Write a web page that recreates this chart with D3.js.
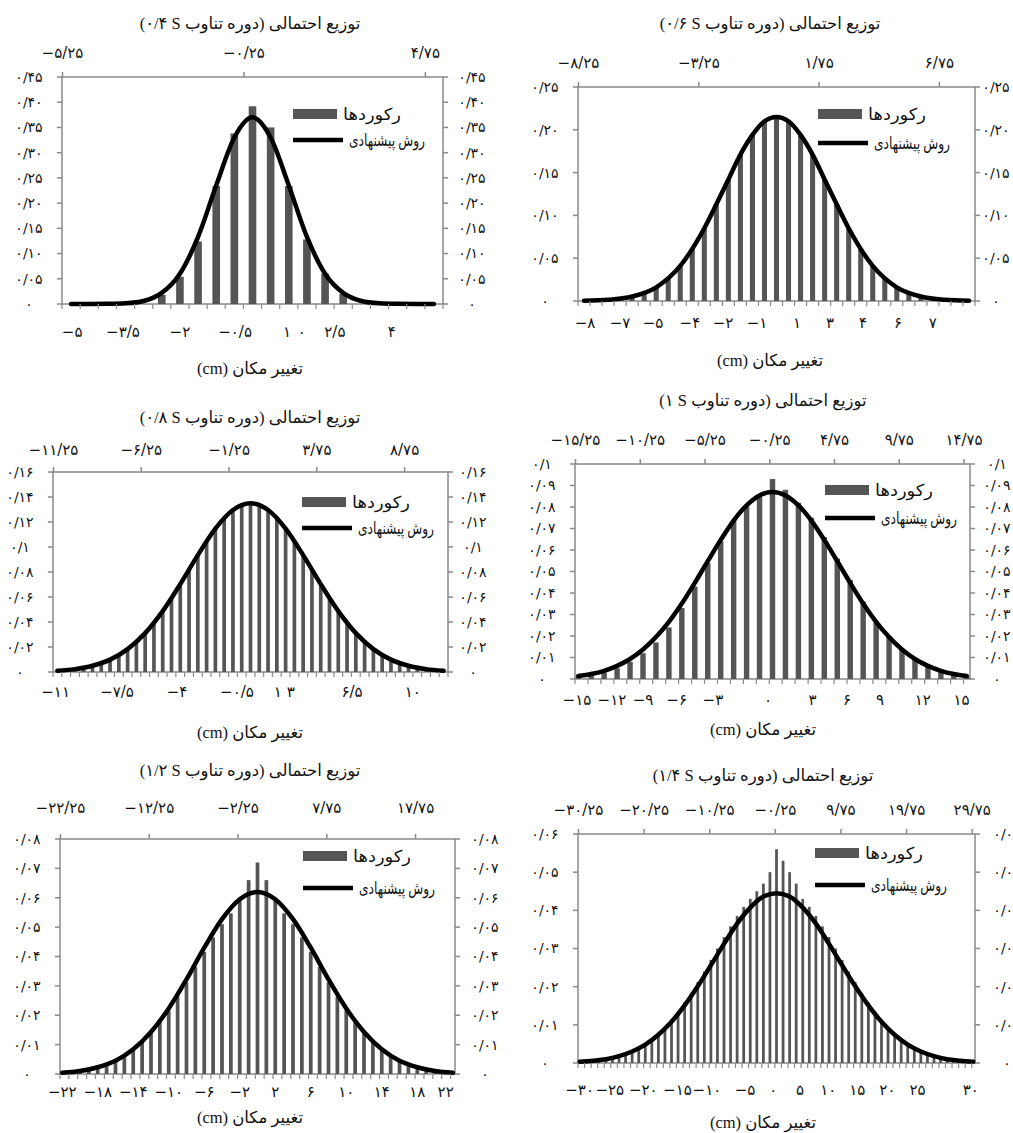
<!DOCTYPE html>
<html>
<head>
<meta charset="utf-8">
<script src="https://cdn.jsdelivr.net/npm/d3@7"></script>
<style>
  body { margin: 0; background: #fff; }
  text { font-family: "Liberation Serif", "DejaVu Serif", "DejaVu Sans", serif; fill: #111; }
</style>
</head>
<body>
<svg id="chart" width="1013" height="1133"></svg>
<script>
// ---- data ----
var periods = ["۰/۴", "۰/۶", "۰/۸", "۱", "۱/۲", "۱/۴"];

// panel 1, T = 0.4 s
var p1Bins = d3.range(-5, 5.01, 0.5);
var p1Bars = [0, 0, 0, 0, 0, 0.018, 0.054, 0.124, 0.234, 0.338, 0.392, 0.35, 0.234, 0.128, 0.06, 0.02, 0, 0, 0, 0, 0];
var p1CurveX = [-5, -4.5, -4, -3.5, -3, -2.5, -2, -1.5, -1, -0.5, 0, 0.5, 1, 1.5, 2, 2.5, 3, 3.5, 4, 4.5, 5];
var p1Curve = [0, 0, 0.0003, 0.0014, 0.006, 0.022, 0.06, 0.133, 0.235, 0.33, 0.37, 0.33, 0.235, 0.133, 0.06, 0.022, 0.006, 0.0014, 0.0003, 0, 0];
var p1TopTicks = [-5.25, -0.25, 4.75];
var p1YTicks = [0, 0.05, 0.1, 0.15, 0.2, 0.25, 0.3, 0.35, 0.4, 0.45];
var p1BottomPos = [-4.97, -3.57, -2, -0.48, 0.95, 1.36, 2.27, 3.84];
var p1BottomLabels = ["-5", "-3.5", "-2", "-0.5", "1", "0", "2.5", "4"];

// panel 2, T = 0.6 s
var p2Bins = d3.range(-8, 8.01, 0.5);
var p2Bars = [0, 0, 0.001, 0.002, 0.005, 0.009, 0.016, 0.027, 0.041, 0.061, 0.085, 0.113, 0.142, 0.171, 0.194, 0.21, 0.215,
              0.21, 0.194, 0.171, 0.142, 0.113, 0.085, 0.061, 0.041, 0.027, 0.016, 0.009, 0.005, 0.002, 0.001, 0, 0];
var p2CurveX = [-8, -7, -6, -5, -4, -3, -2.5, -2, -1.5, -1, -0.5, 0, 0.5, 1, 1.5, 2, 2.5, 3, 4, 5, 6, 7, 8];
var p2Curve = [0.0003, 0.0014, 0.0052, 0.016, 0.041, 0.085, 0.113, 0.142, 0.171, 0.194, 0.21, 0.215, 0.21, 0.194, 0.171, 0.142, 0.113, 0.085, 0.041, 0.016, 0.0052, 0.0014, 0.0003];
var p2TopTicks = [-8.25, -3.25, 1.75, 6.75];
var p2YTicks = [0, 0.05, 0.1, 0.15, 0.2, 0.25];
var p2BottomPos = [-7.96, -6.5, -5.13, -3.6, -2.22, -0.81, 0.85, 2.22, 3.6, 5.05, 6.5];
var p2BottomLabels = ["-8", "-7", "-5", "-4", "-2", "-1", "1", "3", "4", "6", "7"];

// panel 3, T = 0.8 s
var p3Bins = d3.range(-11, 11.01, 0.5);
var p3Bars = [0.001, 0.001, 0.002, 0.003, 0.005, 0.007, 0.01, 0.014, 0.018, 0.024, 0.031, 0.039, 0.049, 0.059, 0.07, 0.082, 0.094, 0.105, 0.115, 0.123, 0.13, 0.134, 0.135,
              0.134, 0.13, 0.123, 0.115, 0.105, 0.094, 0.082, 0.07, 0.059, 0.049, 0.039, 0.031, 0.024, 0.018, 0.014, 0.01, 0.007, 0.005, 0.003, 0.002, 0.001, 0.001];
var p3CurveX = [-11, -10, -9, -8, -7, -6, -5, -4, -3, -2, -1, 0, 1, 2, 3, 4, 5, 6, 7, 8, 9, 10, 11];
var p3Curve = [0.001, 0.0023, 0.005, 0.0099, 0.0183, 0.0311, 0.0487, 0.0703, 0.0935, 0.1147, 0.1296, 0.135, 0.1296, 0.1147, 0.0935, 0.0703, 0.0487, 0.0311, 0.0183, 0.0099, 0.005, 0.0023, 0.001];
var p3TopTicks = [-11.25, -6.25, -1.25, 3.75, 8.75];
var p3YTicks = [0, 0.02, 0.04, 0.06, 0.08, 0.1, 0.12, 0.14, 0.16];
var p3BottomPos = [-11.1, -7.6, -4.19, -0.77, 1.56, 2.3, 5.78, 9.25];
var p3BottomLabels = ["-11", "-7.5", "-4", "-0.5", "1", "3", "6.5", "10"];

// panel 4, T = 1 s
var p4Bins = d3.range(-15, 15.01, 1);
var p4Bars = [0.001, 0.002, 0.003, 0.005, 0.008, 0.012, 0.017, 0.024, 0.033, 0.043, 0.054, 0.064, 0.074, 0.08, 0.085, 0.093,
              0.088, 0.082, 0.075, 0.066, 0.056, 0.046, 0.036, 0.027, 0.02, 0.014, 0.009, 0.006, 0.004, 0.002, 0.001];
var p4CurveX = d3.range(-15, 15.01, 1);
var p4Curve = [0.0014, 0.0023, 0.0038, 0.0061, 0.0093, 0.0137, 0.0195, 0.0266, 0.0351, 0.0447, 0.0548, 0.0647, 0.0737, 0.0808, 0.0854, 0.087,
               0.0854, 0.0808, 0.0737, 0.0647, 0.0548, 0.0447, 0.0351, 0.0266, 0.0195, 0.0137, 0.0093, 0.0061, 0.0038, 0.0023, 0.0014];
var p4TopTicks = [-15.25, -10.25, -5.25, -0.25, 4.75, 9.75, 14.75];
var p4YTicks = [0, 0.01, 0.02, 0.03, 0.04, 0.05, 0.06, 0.07, 0.08, 0.09, 0.1];
var p4BottomPos = [-15.1, -12.4, -10, -7.4, -4.6, -0.35, 3.1, 5.75, 8.3, 11.6, 14.6];
var p4BottomLabels = ["-15", "-12", "-9", "-6", "-3", "0", "3", "6", "9", "12", "15"];

// panel 5, T = 1.2 s
var p5Bins = d3.range(-22, 22.01, 1);
var p5Bars = [0.0004, 0.0007, 0.001, 0.0015, 0.0022, 0.0031, 0.0044, 0.0061, 0.0081, 0.0107, 0.0138, 0.0175, 0.0216, 0.0263, 0.0312, 0.0364, 0.0416, 0.0465, 0.051, 0.0547, 0.059, 0.066, 0.072,
              0.066, 0.06, 0.0547, 0.051, 0.0465, 0.0416, 0.0364, 0.0312, 0.0263, 0.0216, 0.0175, 0.0138, 0.0107, 0.0081, 0.0061, 0.0044, 0.0031, 0.0022, 0.0015, 0.001, 0.0007, 0.0004];
var p5CurveX = [-22, -20, -18, -16, -14, -12, -10, -8, -6, -4, -2, 0, 2, 4, 6, 8, 10, 12, 14, 16, 18, 20, 22];
var p5Curve = [0.0004, 0.001, 0.0023, 0.0045, 0.0084, 0.0143, 0.0223, 0.0322, 0.043, 0.0527, 0.0595, 0.062, 0.0595, 0.0527, 0.043, 0.0322, 0.0223, 0.0143, 0.0084, 0.0045, 0.0023, 0.001, 0.0004];
var p5TopTicks = [-22.25, -12.25, -2.25, 7.75, 17.75];
var p5YTicks = [0, 0.01, 0.02, 0.03, 0.04, 0.05, 0.06, 0.07, 0.08];
var p5BottomPos = [-22, -18, -14, -10, -6, -2, 2, 6, 10, 14, 18, 21.2];
var p5BottomLabels = ["-22", "-18", "-14", "-10", "-6", "-2", "2", "6", "10", "14", "18", "22"];

// panel 6, T = 1.4 s
var p6Bins = d3.range(-30, 30.01, 1);
var p6Bars = [0.0003, 0.0004, 0.0006, 0.0008, 0.0011, 0.0015, 0.0019, 0.0025, 0.0032, 0.0041, 0.0051, 0.0063, 0.0078, 0.0095, 0.0114, 0.0135, 0.0159, 0.0184, 0.0212, 0.024, 0.027, 0.03, 0.033, 0.0358, 0.0385, 0.0409, 0.043, 0.045, 0.047, 0.05, 0.056,
              0.053, 0.05, 0.047, 0.043, 0.0409, 0.0385, 0.0358, 0.033, 0.03, 0.027, 0.024, 0.0212, 0.0184, 0.0159, 0.0135, 0.0114, 0.0095, 0.0078, 0.0063, 0.0051, 0.0041, 0.0032, 0.0025, 0.0019, 0.0015, 0.0011, 0.0008, 0.0006, 0.0004, 0.0003];
var p6CurveX = [-30, -28, -26, -24, -22, -20, -18, -16, -14, -12, -10, -8, -6, -4, -2, 0, 2, 4, 6, 8, 10, 12, 14, 16, 18, 20, 22, 24, 26, 28, 30];
var p6Curve = [0.0003, 0.0006, 0.001, 0.0018, 0.003, 0.0048, 0.0074, 0.0108, 0.0151, 0.0201, 0.0256, 0.0312, 0.0365, 0.0407, 0.0436, 0.0445,
               0.0436, 0.0407, 0.0365, 0.0312, 0.0256, 0.0201, 0.0151, 0.0108, 0.0074, 0.0048, 0.003, 0.0018, 0.001, 0.0006, 0.0003];
var p6TopTicks = [-30.25, -20.25, -10.25, -0.25, 9.75, 19.75, 29.75];
var p6YTicks = [0, 0.01, 0.02, 0.03, 0.04, 0.05, 0.06];
var p6BottomPos = [-30, -25.4, -20.3, -15.1, -10.6, -4.8, -0.5, 3.6, 7.9, 12.3, 16.9, 21.5, 29.6];
var p6BottomLabels = ["-30", "-25", "-20", "-15", "-10", "-5", "0", "5", "10", "15", "20", "25", "30"];

var legendBars = "رکوردها";
var legendLine = "روش پیشنهادی";
var titleText = "توزیع احتمالی (دوره تناوب S\u200F ";
var xTitle = "تغییر مکان (cm)";

// ---- layout (pixels) ----
var panels = [
  { bins: p1Bins, bars: p1Bars, cx: p1CurveX, cy: p1Curve, top: p1TopTicks, yt: p1YTicks, bt: p1BottomPos, bl: p1BottomLabels,
    dom: [-5.25, 5.25], ymax: 0.45, ydec: 2, step: 0.5, rOff: 29,
    l: 62, r: 443, t: 77, b: 304, tx: 250, ty: 23, topY: 53, botY: 332, axY: 368, lgX: 293, lgY1: 114, lgY2: 140 },
  { bins: p2Bins, bars: p2Bars, cx: p2CurveX, cy: p2Curve, top: p2TopTicks, yt: p2YTicks, bt: p2BottomPos, bl: p2BottomLabels,
    dom: [-8.25, 8.25], ymax: 0.25, ydec: 2, step: 0.5, rOff: 21,
    l: 578, r: 975, t: 87, b: 301, tx: 770, ty: 23, topY: 63, botY: 323, axY: 360, lgX: 818, lgY1: 114, lgY2: 143 },
  { bins: p3Bins, bars: p3Bars, cx: p3CurveX, cy: p3Curve, top: p3TopTicks, yt: p3YTicks, bt: p3BottomPos, bl: p3BottomLabels,
    dom: [-11.25, 11.25], ymax: 0.16, ydec: null, step: 0.5, rOff: 25,
    l: 53, r: 448, t: 472, b: 672, tx: 250, ty: 417, topY: 450, botY: 692, axY: 732, lgX: 302, lgY1: 502, lgY2: 528 },
  { bins: p4Bins, bars: p4Bars, cx: p4CurveX, cy: p4Curve, top: p4TopTicks, yt: p4YTicks, bt: p4BottomPos, bl: p4BottomLabels,
    dom: [-15.25, 15.25], ymax: 0.1, ydec: null, step: 1, rOff: 27,
    l: 575, r: 970, t: 464, b: 679, tx: 763, ty: 400, topY: 440, botY: 700, axY: 729, lgX: 825, lgY1: 490, lgY2: 518 },
  { bins: p5Bins, bars: p5Bars, cx: p5CurveX, cy: p5Curve, top: p5TopTicks, yt: p5YTicks, bt: p5BottomPos, bl: p5BottomLabels,
    dom: [-22.25, 22.25], ymax: 0.08, ydec: null, step: 1, rOff: 30,
    l: 60, r: 455, t: 839, b: 1074, tx: 250, ty: 770, topY: 808, botY: 1092, axY: 1117, lgX: 303, lgY1: 856, lgY2: 888 },
  { bins: p6Bins, bars: p6Bars, cx: p6CurveX, cy: p6Curve, top: p6TopTicks, yt: p6YTicks, bt: p6BottomPos, bl: p6BottomLabels,
    dom: [-30.25, 30.25], ymax: 0.06, ydec: null, step: 1, rOff: 32,
    l: 578, r: 975, t: 834, b: 1063, tx: 763, ty: 775, topY: 810, botY: 1090, axY: 1122, lgX: 815, lgY1: 853, lgY2: 885 }
];

var svg = d3.select("#chart");
var axisColor = "#8a8a8a", barColor = "#555555";

// Persian digits, "/" as decimal mark.
function fa(s) {
  return String(s).replace(/[0-9]/g, function(d) { return "۰۱۲۳۴۵۶۷۸۹"[+d]; })
    .replace(".", "/").replace("-", "\u2212");
}
function yLabel(v, dec) {
  if (v === 0) return fa("0");
  return fa(dec ? v.toFixed(dec) : String(+v.toFixed(3)));
}

panels.forEach(function(p, i) {
  var g = svg.append("g");
  var x = d3.scaleLinear().domain(p.dom).range([p.l, p.r]);
  var y = d3.scaleLinear().domain([0, p.ymax]).range([p.b, p.t]);

  // title
  g.append("text").attr("x", p.tx).attr("y", p.ty).attr("dy", "0.35em")
    .attr("direction", "rtl").attr("text-anchor", "middle").style("font-size", "16.5px")
    .text(titleText + periods[i] + ")");

  // frame
  g.append("rect").attr("x", p.l).attr("y", p.t).attr("width", p.r - p.l).attr("height", p.b - p.t)
    .attr("fill", "none").attr("stroke", axisColor).attr("stroke-width", 1.5);

  // bars
  var bw = Math.max(2, (x(p.step) - x(0)) * 0.42);
  g.selectAll(".bar").data(p.bars).enter().append("rect")
    .attr("x", function(d, j) { return x(p.bins[j]) - bw / 2; })
    .attr("y", function(d) { return y(d); })
    .attr("width", bw)
    .attr("height", function(d) { return p.b - y(d); })
    .attr("fill", barColor);

  // curve
  var pts = p.cx.map(function(v, j) { return [v, p.cy[j]]; });
  g.append("path").datum(pts)
    .attr("d", d3.line().x(function(d) { return x(d[0]); }).y(function(d) { return y(d[1]); }).curve(d3.curveMonotoneX))
    .attr("fill", "none").attr("stroke", "#000").attr("stroke-width", 4.5).attr("stroke-linecap", "round");

  // top axis
  var topAx = g.append("g").attr("transform", "translate(0," + p.t + ")")
    .call(d3.axisTop(x).tickValues(p.top).tickSize(5).tickFormat(function(v) { return fa(v); }));
  topAx.select(".domain").remove();
  topAx.selectAll("line").attr("stroke", axisColor).attr("stroke-width", 1.5);
  topAx.selectAll("text").attr("y", p.topY - p.t).attr("dy", "0.35em").style("font-size", "15px").style("font-family", "DejaVu Sans").attr("fill", "#111");

  // bottom ticks every bin edge
  var edges = d3.range(p.dom[0], p.dom[1] + 1e-6, p.step);
  g.selectAll(".bt").data(edges).enter().append("line")
    .attr("x1", function(d) { return x(d); }).attr("x2", function(d) { return x(d); })
    .attr("y1", p.b).attr("y2", p.b + 5).attr("stroke", axisColor).attr("stroke-width", 1.2);
  g.selectAll(".bl").data(p.bt).enter().append("text")
    .attr("x", function(d) { return x(d); }).attr("y", p.botY).attr("dy", "0.35em")
    .attr("text-anchor", "middle").style("font-size", "15px").style("font-family", "DejaVu Sans")
    .text(function(d, j) { return fa(p.bl[j]); });

  // left and right value axes
  [["l", -1, 33], ["r", 1, p.rOff]].forEach(function(side) {
    var ax = p[side[0]], dir = side[1];
    g.selectAll(".yt" + side[0]).data(p.yt).enter().append("line")
      .attr("x1", ax).attr("x2", ax + dir * 5)
      .attr("y1", function(d) { return y(d); }).attr("y2", function(d) { return y(d); })
      .attr("stroke", axisColor).attr("stroke-width", 1.5);
    g.selectAll(".yl" + side[0]).data(p.yt).enter().append("text")
      .attr("x", ax + dir * side[2]).attr("y", function(d) { return y(d); }).attr("dy", "0.35em")
      .attr("text-anchor", "middle").style("font-size", "14px").style("font-family", "DejaVu Sans")
      .text(function(d) { return yLabel(d, p.ydec); });
  });

  // axis title
  g.append("text").attr("x", p.tx).attr("y", p.axY).attr("dy", "0.35em")
    .attr("direction", "rtl").attr("text-anchor", "middle").style("font-size", "16.5px")
    .text(xTitle);

  // legend
  g.append("rect").attr("x", p.lgX).attr("y", p.lgY1 - 5).attr("width", 44).attr("height", 10).attr("fill", barColor);
  g.append("line").attr("x1", p.lgX).attr("x2", p.lgX + 50).attr("y1", p.lgY2).attr("y2", p.lgY2)
    .attr("stroke", "#000").attr("stroke-width", 4.5);
  g.append("text").attr("x", p.lgX + 50).attr("y", p.lgY1).attr("dy", "0.35em").style("font-size", "16.5px")
    .attr("textLength", 58).attr("lengthAdjust", "spacingAndGlyphs").text(legendBars);
  g.append("text").attr("x", p.lgX + 56).attr("y", p.lgY2).attr("dy", "0.35em").style("font-size", "16.5px")
    .attr("textLength", 76).attr("lengthAdjust", "spacingAndGlyphs").text(legendLine);
});
</script>
</body>
</html>
